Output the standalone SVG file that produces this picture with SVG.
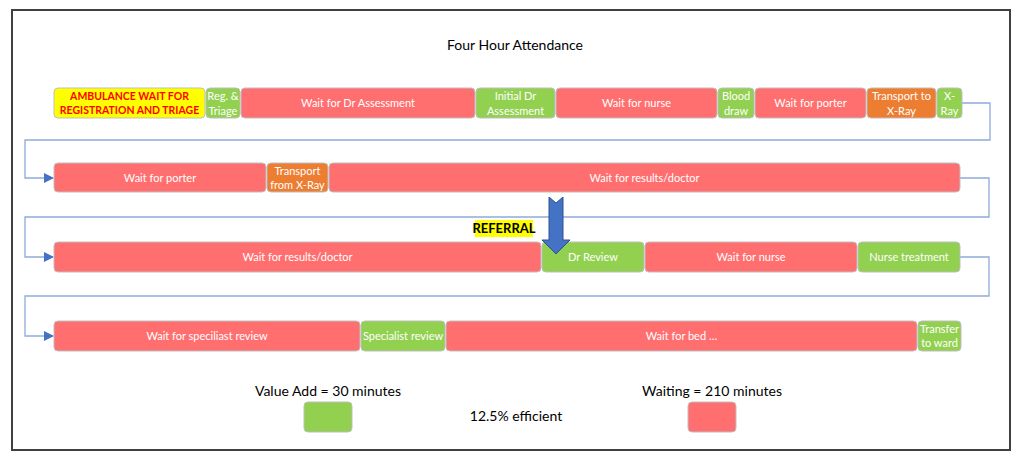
<svg xmlns="http://www.w3.org/2000/svg" width="1024" height="461" viewBox="0 0 1024 461">
<style>
.bx{stroke:#BFBFBF;stroke-width:1}
.r{fill:#FF6F6F}
.g{fill:#92D050}
.o{fill:#ED7D31}
.y{fill:#FFFF00}
.t{font-family:Lato,"Liberation Sans",sans-serif;font-size:11px;fill:#FFFFFF;text-anchor:middle}
.k{font-family:Lato,"Liberation Sans",sans-serif;font-size:14px;fill:#000000;text-anchor:middle}
.amb{font-family:Lato,"Liberation Sans",sans-serif;font-size:10.5px;font-weight:bold;fill:#FF0000;text-anchor:middle}
.cn{fill:none;stroke:#8FAADC;stroke-width:1.3}
</style>
<defs>
<marker id="ah" markerWidth="10" markerHeight="10" refX="9" refY="5" orient="auto" markerUnits="userSpaceOnUse">
<path d="M0,0 L10,5 L0,10 Z" fill="#4472C4"/>
</marker>
</defs>
<rect x="0" y="0" width="1024" height="461" fill="#FFFFFF"/>
<rect x="12" y="10" width="998" height="440" fill="none" stroke="#404040" stroke-width="2"/>
<text class="k" x="515" y="50">Four Hour Attendance</text>

<g id="connectors">
<path class="cn" d="M962,103 H990 V140 H25 V178 H53" marker-end="url(#ah)"/>
<path class="cn" d="M960,178 H989 V217 H25 V257 H53" marker-end="url(#ah)"/>
<path class="cn" d="M960,257 H989 V296 H25 V336 H53" marker-end="url(#ah)"/>
</g>

<!-- Row 1 -->
<g id="n-ambulance"><rect class="bx y" x="54" y="88" width="151" height="30" rx="4"/><text class="amb" x="129.5" y="100">AMBULANCE WAIT FOR</text><text class="amb" x="129.5" y="114">REGISTRATION AND TRIAGE</text></g>
<g id="n-reg"><rect class="bx g" x="206" y="88" width="34" height="30" rx="4"/><text class="t" x="223" y="100">Reg. &amp;</text><text class="t" x="223" y="115">Triage</text></g>
<g id="n-wait-dr"><rect class="bx r" x="241" y="88" width="234" height="30" rx="4"/><text class="t" x="358" y="107">Wait for Dr Assessment</text></g>
<g id="n-initial-dr"><rect class="bx g" x="476" y="88" width="79" height="30" rx="4"/><text class="t" x="515.5" y="100">Initial Dr</text><text class="t" x="515.5" y="115">Assessment</text></g>
<g id="n-wait-nurse1"><rect class="bx r" x="556" y="88" width="161" height="30" rx="4"/><text class="t" x="636.5" y="107">Wait for nurse</text></g>
<g id="n-blood"><rect class="bx g" x="718" y="88" width="36" height="30" rx="4"/><text class="t" x="736" y="100">Blood</text><text class="t" x="736" y="115">draw</text></g>
<g id="n-wait-porter1"><rect class="bx r" x="755" y="88" width="111" height="30" rx="4"/><text class="t" x="810.5" y="107">Wait for porter</text></g>
<g id="n-transport-to"><rect class="bx o" x="867" y="88" width="69" height="30" rx="4"/><text class="t" x="901.5" y="100">Transport to</text><text class="t" x="901.5" y="115">X-Ray</text></g>
<g id="n-xray"><rect class="bx g" x="937" y="88" width="25" height="30" rx="4"/><text class="t" x="949.5" y="100">X-</text><text class="t" x="949.5" y="115">Ray</text></g>

<!-- Row 2 -->
<g id="n-wait-porter2"><rect class="bx r" x="54" y="163" width="212" height="29" rx="4"/><text class="t" x="160" y="181.5">Wait for porter</text></g>
<g id="n-transport-from"><rect class="bx o" x="267" y="163" width="61" height="29" rx="4"/><text class="t" x="297.5" y="174.5">Transport</text><text class="t" x="297.5" y="188.5">from X-Ray</text></g>
<g id="n-wait-results1"><rect class="bx r" x="329" y="163" width="631" height="29" rx="4"/><text class="t" x="644.5" y="181.5">Wait for results/doctor</text></g>

<!-- Row 3 -->
<g id="n-wait-results2"><rect class="bx r" x="54" y="242" width="487" height="30" rx="4"/><text class="t" x="297.5" y="261">Wait for results/doctor</text></g>
<g id="n-dr-review"><rect class="bx g" x="542" y="242" width="102" height="30" rx="4"/><text class="t" x="593" y="261">Dr Review</text></g>
<g id="n-wait-nurse2"><rect class="bx r" x="645" y="242" width="212" height="30" rx="4"/><text class="t" x="751" y="261">Wait for nurse</text></g>
<g id="n-nurse-treat"><rect class="bx g" x="858" y="242" width="102" height="30" rx="4"/><text class="t" x="909" y="261">Nurse treatment</text></g>

<!-- Row 4 -->
<g id="n-wait-spec"><rect class="bx r" x="54" y="321" width="306" height="30" rx="4"/><text class="t" x="207" y="340">Wait for speciliast review</text></g>
<g id="n-spec-review"><rect class="bx g" x="361" y="321" width="84" height="30" rx="4"/><text class="t" x="403" y="340">Specialist review</text></g>
<g id="n-wait-bed"><rect class="bx r" x="446" y="321" width="471" height="30" rx="4"/><text class="t" x="681.5" y="340">Wait for bed …</text></g>
<g id="n-transfer"><rect class="bx g" x="918" y="321" width="43" height="30" rx="4"/><text class="t" x="939.5" y="333">Transfer</text><text class="t" x="939.5" y="347">to ward</text></g>

<!-- Referral -->
<g id="referral">
<rect x="475" y="220" width="58" height="17" fill="#FFFF00"/>
<text x="504" y="233" font-family="Lato,'Liberation Sans',sans-serif" font-size="13" font-weight="bold" fill="#000000" text-anchor="middle">REFERRAL</text>
<path d="M549,197 L556,203 L563,197 L563,240 L570,240 L556,254 L542,240 L549,240 Z" fill="#4472C4" stroke="#2F528F" stroke-width="1"/>
</g>

<!-- Legend -->
<g id="legend-value">
<text class="k" x="328" y="396">Value Add = 30 minutes</text>
<rect class="bx g" x="304" y="402" width="48" height="30" rx="4"/>
</g>
<g id="legend-eff"><text class="k" x="516" y="421">12.5% efficient</text></g>
<g id="legend-wait">
<text class="k" x="712" y="396">Waiting = 210 minutes</text>
<rect class="bx r" x="688" y="402" width="48" height="30" rx="4"/>
</g>
</svg>
